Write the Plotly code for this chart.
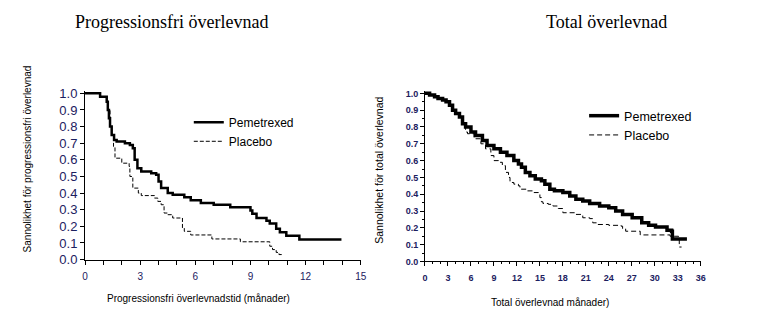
import plotly.graph_objects as go

# ---------------- data ----------------
pfs_pem_t = [0, 0.82, 1.18, 1.24, 1.30, 1.36, 1.45, 1.58, 1.72, 2.17, 2.44, 2.6, 2.7, 2.85, 3.06, 3.6, 3.87,
             4.0, 4.14, 4.5, 4.77, 5.4, 5.75, 6.3, 7.0, 7.9, 9.0, 9.1, 9.33, 9.87, 10.05, 10.4, 10.6, 10.95,
             11.66, 13.95]
pfs_pem_s = [1.0, 0.98, 0.95, 0.9, 0.85, 0.8, 0.75, 0.72, 0.71, 0.70, 0.69, 0.67, 0.6, 0.55, 0.53, 0.52, 0.51,
             0.47, 0.43, 0.40, 0.39, 0.375, 0.357, 0.34, 0.33, 0.315, 0.295, 0.276, 0.25, 0.233, 0.217, 0.185,
             0.165, 0.144, 0.12, 0.12]

pfs_pla_t = [0, 0.82, 1.18, 1.24, 1.36, 1.45, 1.55, 1.63, 2.0, 2.4, 2.44, 2.6, 2.9, 3.06, 3.78, 3.96, 4.14,
             4.3, 4.5, 4.77, 5.3, 5.4, 5.75, 6.9, 8.45, 10.05, 10.2, 10.4, 10.55, 10.7]
pfs_pla_s = [1.0, 0.98, 0.95, 0.9, 0.8, 0.75, 0.68, 0.61, 0.58, 0.56, 0.5, 0.43, 0.40, 0.385, 0.37, 0.35, 0.33,
             0.28, 0.27, 0.25, 0.19, 0.17, 0.148, 0.124, 0.107, 0.08, 0.06, 0.043, 0.03, 0.03]

os_pem_t = [0, 0.6, 1.25, 1.7, 2.3, 2.75, 3.2, 3.6, 4.0, 4.5, 4.9, 5.3, 6.0, 6.6, 7.5, 8.1, 9.0, 9.85, 10.7,
            11.6, 12.2, 12.6, 13.1, 13.7, 14.4, 15.2, 15.65, 16.3, 16.9, 18.0, 18.9, 19.7, 20.6, 21.5, 22.8,
            24.0, 24.9, 25.8, 27.05, 28.3, 29.2, 30.1, 31.6, 32.2, 32.3, 34.2]
os_pem_s = [1.0, 0.99, 0.98, 0.97, 0.96, 0.95, 0.93, 0.9, 0.88, 0.86, 0.82, 0.8, 0.77, 0.75, 0.72, 0.69, 0.67,
            0.65, 0.63, 0.6, 0.58, 0.56, 0.53, 0.51, 0.49, 0.48, 0.46, 0.43, 0.42, 0.41, 0.39, 0.37, 0.36,
            0.345, 0.33, 0.32, 0.30, 0.28, 0.26, 0.23, 0.215, 0.205, 0.186, 0.18, 0.134, 0.134]

os_pla_t = [0, 0.6, 1.25, 1.7, 2.3, 2.75, 3.2, 3.6, 4.0, 4.5, 4.9, 5.3, 5.55, 6.4, 7.3, 7.9, 8.6, 9.0, 9.6,
            10.1, 10.5, 10.9, 11.1, 11.6, 12.2, 12.4, 13.3, 14.1, 14.8, 15.0, 15.2, 15.4, 16.1, 16.7, 17.4,
            18.0, 19.7, 20.6, 21.5, 21.9, 22.5, 24.0, 25.6, 25.8, 26.2, 28.1, 32.0, 33.1, 33.2, 33.5]
os_pla_s = [1.0, 0.99, 0.98, 0.97, 0.96, 0.95, 0.93, 0.9, 0.88, 0.86, 0.82, 0.77, 0.76, 0.73, 0.70, 0.67,
            0.63, 0.60, 0.59, 0.57, 0.53, 0.50, 0.47, 0.46, 0.45, 0.43, 0.42, 0.41, 0.40, 0.38, 0.355, 0.345,
            0.34, 0.33, 0.315, 0.29, 0.28, 0.26, 0.255, 0.23, 0.22, 0.215, 0.21, 0.195, 0.18, 0.158, 0.15,
            0.134, 0.086, 0.086]

series_names = ["Pemetrexed", "Placebo"]
left_x_ticks = [0, 3, 6, 9, 12, 15]
right_x_ticks = list(range(0, 37, 3))
titles = ["Progressionsfri överlevnad", "Total överlevnad"]
x_titles = ["Progressionsfri överlevnadstid (månader)", "Total överlevnad månader)"]
y_titles = ["Sannolikhet för progressionsfri överlevnad", "Sannolikhet för total överlevnad"]

# ---------------- figure ----------------
W, H = 768, 330
TICKCOL = "#1c2060"
SANS = "Arial, Liberation Sans, sans-serif"
NARROW = "Liberation Sans Narrow, Arial Narrow, Arial, sans-serif"
SERIF = "Times New Roman, Liberation Serif, serif"

fig = go.Figure()
fig.add_trace(go.Scatter(x=pfs_pem_t, y=pfs_pem_s, mode="lines", line=dict(shape="hv", color="black", width=2.5),
                         name=series_names[0], xaxis="x", yaxis="y", legend="legend"))
fig.add_trace(go.Scatter(x=pfs_pla_t, y=pfs_pla_s, mode="lines",
                         line=dict(shape="hv", color="black", width=1, dash="4px,2px"),
                         name=series_names[1], xaxis="x", yaxis="y", legend="legend"))
fig.add_trace(go.Scatter(x=os_pem_t, y=os_pem_s, mode="lines", line=dict(shape="hv", color="black", width=3.5),
                         name=series_names[0], xaxis="x2", yaxis="y2", legend="legend2"))
fig.add_trace(go.Scatter(x=os_pla_t, y=os_pla_s, mode="lines",
                         line=dict(shape="hv", color="black", width=1, dash="5px,3px"),
                         name=series_names[1], xaxis="x2", yaxis="y2", legend="legend2"))


def ydom(y0px, y1px, top=1.015):
    per = y0px - y1px
    return [(H - y0px) / H, (H - (y1px - (top - 1) * per)) / H]


axis_common = dict(showline=True, linecolor="black", linewidth=1, showgrid=False, zeroline=False,
                   ticks="outside", tickcolor="black", mirror=False)

fig.update_layout(
    width=W, height=H, margin=dict(l=0, r=0, t=0, b=0),
    paper_bgcolor="white", plot_bgcolor="white",
    xaxis=dict(domain=[83 / W, 362 / W], range=[0, 15], anchor="y", tickvals=left_x_ticks, ticklen=4,
               ticklabelstandoff=3,
               minor=dict(dtick=1, ticks="outside", ticklen=4, tickcolor="black"),
               tickfont=dict(family=SANS, size=10, color=TICKCOL), **axis_common),
    yaxis=dict(domain=ydom(265, 92), range=[0, 1.015], anchor="x", tickvals=[i / 10 for i in range(11)],
               tickformat=".1f", ticklen=4, tickfont=dict(family=SANS, size=13, color=TICKCOL), **axis_common),
    xaxis2=dict(domain=[427 / W, 706 / W], range=[0, 36], anchor="y2", tickvals=right_x_ticks, ticklen=4,
                ticklabelstandoff=4,
                minor=dict(dtick=1, ticks="outside", ticklen=2, tickcolor="black"),
                tickfont=dict(family=NARROW, size=9, color=TICKCOL, weight="bold"), **axis_common),
    yaxis2=dict(domain=ydom(267, 92), range=[0, 1.015], anchor="x2", tickvals=[i / 10 for i in range(11)],
                tickformat=".1f", ticklen=4,
                minor=dict(dtick=0.05, ticks="outside", ticklen=2, tickcolor="black"),
                tickfont=dict(family=NARROW, size=9, color=TICKCOL, weight="bold"), **axis_common),
    legend=dict(x=188 / W, y=(H - 107) / H, xanchor="left", yanchor="top", bgcolor="rgba(0,0,0,0)",
                font=dict(family=SANS, size=12, color="black"), itemwidth=30, tracegroupgap=0),
    legend2=dict(x=588 / W, y=(H - 100) / H, xanchor="left", yanchor="top", bgcolor="rgba(0,0,0,0)",
                 font=dict(family=SANS, size=12.5, color="black"), itemwidth=30, tracegroupgap=0),
    showlegend=True,
)

ann = []
ann.append(dict(text=titles[0], x=170 / W, y=(H - 18) / H, xref="paper", yref="paper", showarrow=False,
                font=dict(family=SERIF, size=18, color="black"), xanchor="center", yanchor="middle"))
ann.append(dict(text=titles[1], x=611 / W, y=(H - 18) / H, xref="paper", yref="paper", showarrow=False,
                font=dict(family=SERIF, size=18, color="black"), xanchor="center", yanchor="middle"))
ann.append(dict(text=x_titles[0], x=198 / W, y=(H - 306) / H, xref="paper", yref="paper", showarrow=False,
                font=dict(family=SANS, size=10, color="black"), xanchor="center", yanchor="middle"))
ann.append(dict(text=x_titles[1], x=553 / W, y=(H - 310) / H, xref="paper", yref="paper", showarrow=False,
                font=dict(family=SANS, size=10, color="black"), xanchor="center", yanchor="middle"))
ann.append(dict(text=y_titles[0], x=25 / W, y=(H - 160) / H, xref="paper", yref="paper", showarrow=False,
                textangle=-90, font=dict(family=SANS, size=10, color="black"), xanchor="center", yanchor="middle"))
ann.append(dict(text=y_titles[1], x=381 / W, y=(H - 172) / H, xref="paper", yref="paper", showarrow=False,
                textangle=-90, font=dict(family=SANS, size=10.5, color="black"), xanchor="center",
                yanchor="middle"))
fig.update_layout(annotations=ann)

fig.write_html("out.html")
